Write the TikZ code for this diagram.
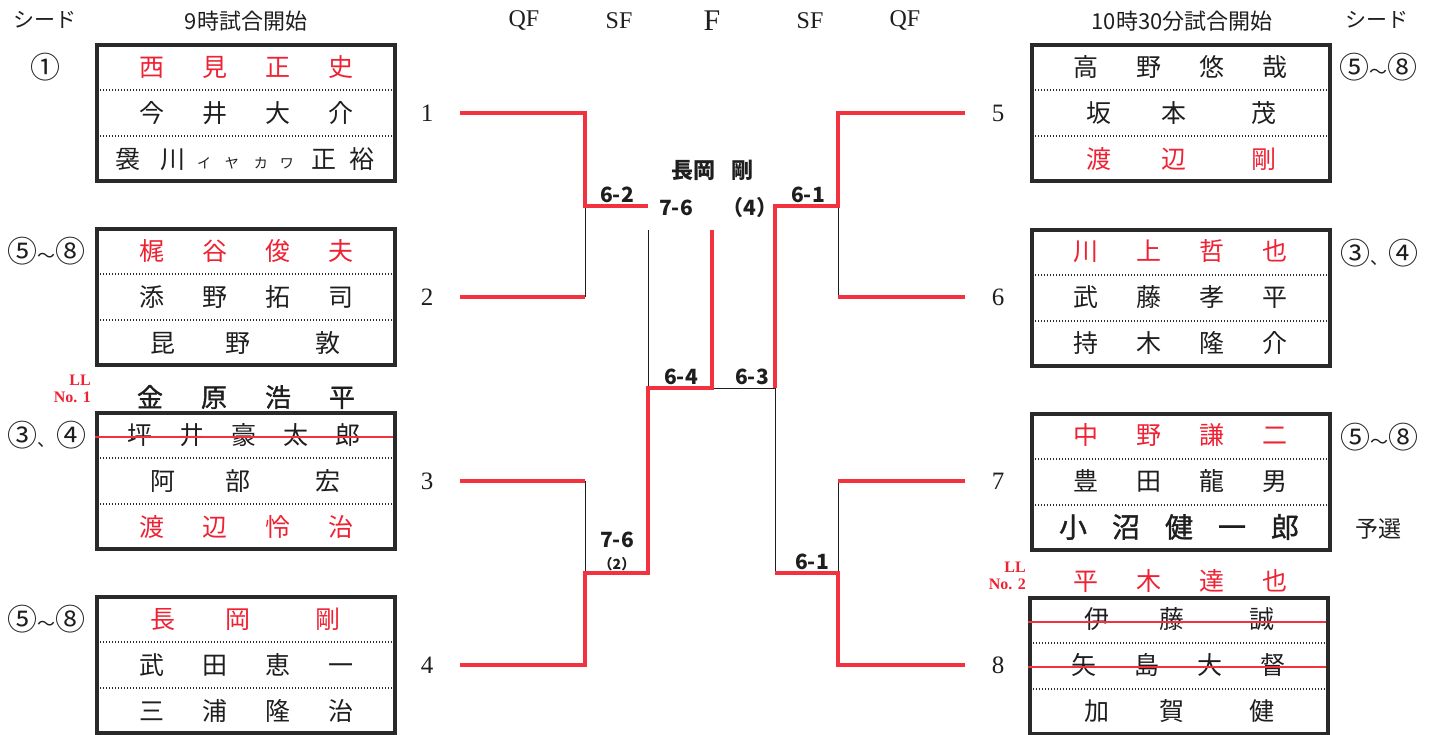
\documentclass[tikz,border=0pt]{standalone}
\usepackage{fontspec}
\setmainfont{Liberation Serif}
\newfontfamily\jp{Noto Sans CJK JP}
\newfontfamily\jpm[FakeBold=1.2]{Noto Sans CJK JP}
\usepackage{tikz}
\definecolor{bracketred}{HTML}{F2333F}
\definecolor{namered}{HTML}{EE2233}
\definecolor{inkfg}{HTML}{1E1E1E}
\definecolor{boxfg}{HTML}{2A2A2A}
\newcommand{\fourch}[4]{#1\hspace{38pt}#2\hspace{38pt}#3\hspace{38pt}#4}
\newcommand{\threech}[3]{#1\hspace{50pt}#2\hspace{65pt}#3}
\newcommand{\fivech}[5]{#1\hspace{27pt}#2\hspace{27pt}#3\hspace{27pt}#4\hspace{27pt}#5}
\newcommand{\cn}[1]{{\fontsize{30}{30}\selectfont #1}}

\begin{document}
\begin{tikzpicture}[x=1pt,y=-1pt]
  \tikzstyle{entry}=[draw=boxfg, line width=4pt, minimum width=298, minimum height=136, inner sep=0pt]
  \tikzstyle{rowline}=[draw=boxfg, line width=1.4pt, dash pattern=on 1.4pt off 1.6pt]
  \tikzstyle{player}=[font=\jp\fontsize{25}{25}\selectfont, text=inkfg, inner sep=0pt]
  \tikzstyle{winner}=[player, text=namered]
  \tikzstyle{strong}=[player, font=\jpm\fontsize{26}{26}\selectfont]
  \tikzstyle{strike}=[draw=bracketred, line width=1.6pt]
  \tikzstyle{win}=[draw=bracketred, line width=3.4pt, line join=miter]
  \tikzstyle{lose}=[draw=inkfg, line width=1pt]
  \tikzstyle{score}=[font=\jp\bfseries\fontsize{21}{21}\selectfont, text=inkfg, inner sep=0pt]
  \tikzstyle{header}=[font=\fontsize{24}{24}\selectfont, text=inkfg, inner sep=0pt]
  \tikzstyle{session}=[font=\jp\fontsize{22}{22}\selectfont, text=inkfg, inner sep=0pt]
  \tikzstyle{slot}=[font=\fontsize{25}{25}\selectfont, text=inkfg, inner sep=0pt]
  \tikzstyle{seed}=[font=\jp\fontsize{18}{18}\selectfont, text=inkfg, inner sep=0pt]
  \tikzstyle{lucky}=[font=\bfseries\fontsize{16}{17}\selectfont, text=namered, align=right, inner sep=0pt]

  \path[use as bounding box] (0,0) rectangle (1435,735);

  \node[seed, font=\jp\fontsize{21}{21}\selectfont] (seedl) at (45,20) {シード};
  \node[session] (timel) at (246,21) {9時試合開始};
  \node[header] (qfl) at (524,21) {QF};
  \node[header] (sfl) at (619,21) {SF};
  \node[header, font=\fontsize{30}{30}\selectfont] (fin) at (712,21) {F};
  \node[header] (sfr) at (810,21) {SF};
  \node[header] (qfr) at (905,21) {QF};
  \node[session] (timer) at (1182,21) {10時30分試合開始};
  \node[seed, font=\jp\fontsize{21}{21}\selectfont] (seedr) at (1377,20) {シード};

  \foreach \s/\x/\y in {lb1/246/113, lb2/246/297, lb3/246/481, lb4/246/665, rb1/1181/113, rb2/1181/298, rb3/1181/482, rb4/1179/666} {
    \node[entry] (\s) at (\x,\y) {};
    \draw[rowline] (\x-146,\y-23) -- (\x+146,\y-23);
    \draw[rowline] (\x-146,\y+23) -- (\x+146,\y+23);
  }

  \node[winner] (l11) at (246,67) {\fourch{西}{見}{正}{史}};
  \node[player] (l12) at (246,113) {\fourch{今}{井}{大}{介}};
  \node[player] (l13) at (245,159) {袰\hspace{20pt}川\hspace{12pt}{\fontsize{14}{14}\selectfont イ\hspace{14pt}ヤ\hspace{15pt}カ\hspace{12pt}ワ}\hspace{17pt}正\hspace{14pt}裕};
  \node[winner] (l21) at (246,251) {\fourch{梶}{谷}{俊}{夫}};
  \node[player] (l22) at (246,297) {\fourch{添}{野}{拓}{司}};
  \node[player] (l23) at (245,343) {\threech{昆}{野}{敦}};
  \node[strong] (ll1) at (246,397) {\fourch{金}{原}{浩}{平}};
  \node[player] (l31) at (244,435) {\fivech{坪}{井}{豪}{太}{郎}};
  \node[player] (l32) at (245,481) {\threech{阿}{部}{宏}};
  \node[winner] (l33) at (246,527) {\fourch{渡}{辺}{怜}{治}};
  \node[winner] (l41) at (245,619) {\threech{長}{岡}{剛}};
  \node[player] (l42) at (246,665) {\fourch{武}{田}{恵}{一}};
  \node[player] (l43) at (246,711) {\fourch{三}{浦}{隆}{治}};

  \node[player] (r11) at (1180,67) {\fourch{高}{野}{悠}{哉}};
  \node[player] (r12) at (1181,113) {\threech{坂}{本}{茂}};
  \node[winner] (r13) at (1181,159) {\threech{渡}{辺}{剛}};
  \node[winner] (r21) at (1180,251) {\fourch{川}{上}{哲}{也}};
  \node[player] (r22) at (1180,297) {\fourch{武}{藤}{孝}{平}};
  \node[player] (r23) at (1180,343) {\fourch{持}{木}{隆}{介}};
  \node[winner] (r31) at (1180,435) {\fourch{中}{野}{謙}{二}};
  \node[player] (r32) at (1180,481) {\fourch{豊}{田}{龍}{男}};
  \node[strong, font=\jpm\fontsize{28}{28}\selectfont] (r33) at (1179,527) {小\hspace{25pt}沼\hspace{25pt}健\hspace{25pt}一\hspace{25pt}郎};
  \node[winner] (ll2) at (1180,581) {\fourch{平}{木}{達}{也}};
  \node[player] (r41) at (1179,619) {\threech{伊}{藤}{誠}};
  \node[player] (r42) at (1178,665) {\fourch{矢}{島}{大}{督}};
  \node[player] (r43) at (1179,711) {\threech{加}{賀}{健}};

  \draw[strike] ([yshift=-2pt]lb3.west |- l31.center) -- ([xshift=-4pt,yshift=-2pt]lb3.east |- l31.center);
  \draw[strike] ([yshift=-3pt]rb4.west |- r41.center) -- ([xshift=-4pt,yshift=-3pt]rb4.east |- r41.center);
  \draw[strike] ([yshift=-2pt]rb4.west |- r42.center) -- ([xshift=-4pt,yshift=-2pt]rb4.east |- r42.center);

  \node[seed] (sd1) at (45,67) {\cn{①}};
  \node[seed] (sd2) at (46,251) {\cn{⑤}～\cn{⑧}};
  \node[seed] (sd3) at (47,435) {\cn{③}、\cn{④}};
  \node[seed] (sd4) at (46,619) {\cn{⑤}～\cn{⑧}};
  \node[seed] (sd5) at (1378,67) {\cn{⑤}～\cn{⑧}};
  \node[seed] (sd6) at (1379,253) {\cn{③}、\cn{④}};
  \node[seed] (sd7) at (1379,437) {\cn{⑤}～\cn{⑧}};
  \node[seed, font=\jp\fontsize{23}{23}\selectfont] (qual) at (1378,529) {予選};
  \node[lucky, anchor=east] (lucky1) at (91,389) {LL\\No. 1};
  \node[lucky, anchor=east] (lucky2) at (1026,576) {LL\\No. 2};

  \foreach \n/\y in {1/113,2/297,3/481,4/665} {
    \node[slot] (n\n) at (427,\y) {\n};
    \coordinate (in\n) at (460,\y);
    \coordinate (qf\n) at (585,\y);
  }
  \foreach \n/\y in {5/113,6/297,7/481,8/665} {
    \node[slot] (n\n) at (998,\y) {\n};
    \coordinate (in\n) at (965,\y);
    \coordinate (qf\n) at (838,\y);
  }
  \coordinate (qfa) at (585,206);
  \coordinate (qfb) at (585,573);
  \coordinate (qfc) at (838,206);
  \coordinate (qfd) at (838,573);
  \coordinate (sfa) at (648,206);
  \coordinate (sfb) at (648,573);
  \coordinate (sfc) at (775,206);
  \coordinate (sfd) at (775,573);
  \coordinate (sftop) at (648,230);
  \coordinate (sfleft) at (648,388);
  \coordinate (sfright) at (775,388);
  \coordinate (final) at (712,388);
  \coordinate (finaltop) at (712,230);

  \draw[lose] (qf2) -- (qfa);
  \draw[lose] (qf3) -- (qfb);
  \draw[lose] (sftop) -- (sfleft);
  \draw[lose] (qf6) -- (qfc);
  \draw[lose] (qf7) -- (qfd);
  \draw[lose] (sfd) -- (sfright) -- (final);

  \draw[win] (in1) -- (qf1) -- (qfa) -- (sfa);
  \draw[win] (in2) -- (qf2);
  \draw[win] (in3) -- (qf3);
  \draw[win] (in4) -- (qf4) -- (qfb) -- (sfb) -- (sfleft) -- (final) -- (finaltop);
  \draw[win] (in5) -- (qf5) -- (qfc) -- (sfc) -- (sfright);
  \draw[win] (in6) -- (qf6);
  \draw[win] (in7) -- (qf7);
  \draw[win] (in8) -- (qf8) -- (qfd) -- (sfd);

  \node[score, font=\jp\bfseries\fontsize{22}{22}\selectfont] (champ) at (712,170) {長岡\hspace{16pt}剛};
  \node[score] (fscore) at (676,208) {7-6};
  \node[score] (ftie) at (750,208) {（4）};
  \node[score] (qs1) at (617,195) {6-2};
  \node[score] (qs3) at (617,540) {7-6};
  \node[score, font=\jp\bfseries\fontsize{14}{14}\selectfont] (qs3tie) at (617,564) {（2）};
  \node[score] (ss1) at (681,377) {6-4};
  \node[score] (ss2) at (752,377) {6-3};
  \node[score] (qs5) at (808,195) {6-1};
  \node[score] (qs7) at (812,562) {6-1};
\end{tikzpicture}
\end{document}
